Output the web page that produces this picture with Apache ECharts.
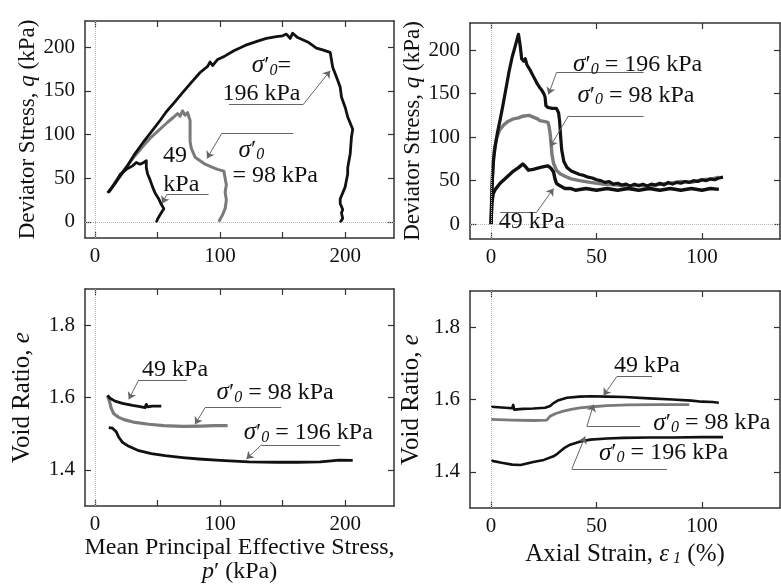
<!DOCTYPE html>
<html>
<head>
<meta charset="utf-8">
<script src="https://cdn.jsdelivr.net/npm/echarts@6/dist/echarts.min.js"></script>
<style>
  html, body { margin: 0; padding: 0; background: #fff; }
  #chart { width: 781px; height: 588px; }
</style>
</head>
<body>
<div id="chart"></div>
<script>
// ---- top-left: deviator stress q vs mean effective stress p' ----
const stressPath196 = [[10,33],[14,40],[20,52],[25,62],[31,76],[38,90],[45,103],[52,116],[57,126],[63,136],[70,148],[76,158],[84,171],[90,178],[92,183],[94,179],[98,186],[104,190],[111,196],[120,202],[130,207],[137,210],[145,212],[150,213],[153,215],[156,210],[158,216],[162,211],[170,206],[177,199],[182,197],[188,194],[190,177],[194,162],[196,154],[197,143],[200,131],[202,120],[206,106],[205,97],[204,78],[202,62],[202,55],[200,40],[196,26],[196,21],[198,14],[197,10],[198,4],[196,-1]];
const stressPath98 = [[11,34],[16,45],[22,57],[30,72],[38,86],[45,97],[52,106],[58,114],[63,120],[66,124],[68,121],[70,127],[72,122],[74,125],[76,116],[76,105],[76,92],[77,84],[80,74],[84,70],[88,66],[93,63],[98,60],[103,58],[104,50],[105,42],[104,34],[105,25],[104,15],[102,8],[100,3],[99,0]];
const stressPath49 = [[11,34],[16,44],[20,54],[25,60],[30,64],[33,68],[36,66],[39,68],[41,70],[41,62],[42,55],[44,48],[46,40],[48,33],[51,26],[53,20],[55,15],[52,8],[50,3],[49,-1]];

// ---- top-right: deviator stress q vs axial strain ----
const strainQ196 = [[0,0],[0.3,30],[0.7,55],[1.2,75],[2,90],[3,105],[4.3,120],[5.5,135],[7,155],[8.5,175],[10,192],[11.5,205],[12.5,214],[13,218],[13.8,205],[14.5,190],[15.5,187],[16.2,190],[17,183],[18.5,177],[20,170],[21.7,162],[23,157],[24,154],[25,150],[25.6,146],[26,136],[27,134],[29,133],[31,133],[32,128],[32.5,118],[33,100],[33.5,85],[34.5,72],[36,65],[38,61],[40,59],[42,57],[44,56],[46,54],[48,53],[50,51],[52,50],[54,48],[56,49],[58,46],[60,47],[62,45],[64,46],[66,44],[68,46],[70,44],[72,46],[74,44],[76,46],[78,45],[80,47],[82,45],[84,48],[86,46],[88,48],[90,47],[92,49],[94,48],[96,50],[98,49],[100,51],[102,50],[104,52],[106,51],[108,53],[110,54]];
const strainQ98 = [[0,0],[0.3,40],[0.8,65],[1.5,85],[2.5,98],[4,108],[6,114],[8,118],[10.6,121],[13,122],[15,124],[18,125],[20,123],[22,121],[23,119],[25,118],[27,117],[27.5,112],[28,104],[28.5,92],[28.8,81],[29.6,70],[31,62],[32.7,58],[35,55],[38,52],[42,50],[47,48],[53,46],[60,45],[65,43],[70,45],[75,43],[80,46],[85,47],[90,49],[95,48],[100,51],[105,52],[108,54]];
const strainQ49 = [[0,0],[0.4,25],[1,35],[2,40],[4.3,47],[7,53],[10.6,61],[13,65],[15,69],[16,67],[17.7,62],[20,63],[23,65],[25,66],[27,67],[28.5,64],[29.6,60],[30.3,52],[31,47],[32.7,44],[35,41],[37.5,41],[40,39],[45,41],[50,39],[55,41],[60,39],[65,41],[70,39],[75,41],[80,39],[85,41],[90,39],[95,41],[100,39],[104,41],[108,40]];

// ---- bottom-left: void ratio e vs p' ----
const voidP49 = [[10,1.606],[12,1.598],[16,1.590],[22,1.584],[30,1.578],[36,1.575],[40,1.572],[41,1.581],[42,1.574],[46,1.576],[53,1.576]];
const voidP98 = [[10,1.605],[11.5,1.590],[13,1.570],[15,1.555],[19,1.545],[24,1.538],[32,1.531],[43,1.526],[55,1.522],[70,1.520],[85,1.521],[95,1.522],[106,1.522]];
const voidP196 = [[11,1.517],[14,1.515],[17,1.505],[19,1.490],[22,1.476],[27,1.465],[35,1.453],[45,1.445],[56,1.439],[70,1.434],[83,1.430],[100,1.426],[123,1.422],[145,1.421],[162,1.421],[180,1.422],[189,1.425],[195,1.427],[206,1.426]];

// ---- bottom-right: void ratio e vs axial strain ----
const voidS49 = [[0,1.580],[5,1.578],[10,1.576],[10.5,1.585],[11,1.572],[15,1.574],[20,1.575],[25.6,1.577],[28,1.582],[29.6,1.590],[32,1.598],[36,1.605],[42,1.608],[47,1.609],[55,1.608],[63,1.607],[75,1.603],[86,1.600],[95,1.597],[100,1.594],[105,1.593],[108,1.591]];
const voidS98 = [[0,1.545],[10,1.543],[20,1.542],[26.4,1.543],[28,1.554],[31,1.562],[34.3,1.568],[38,1.573],[42,1.577],[48,1.580],[55,1.583],[65,1.585],[78.6,1.586],[94,1.586]];
const voidS196 = [[0,1.431],[5,1.425],[10,1.420],[14,1.419],[20,1.427],[25,1.433],[29.6,1.443],[31,1.448],[32.7,1.456],[35,1.467],[37.5,1.475],[42,1.483],[47,1.489],[55,1.492],[62.8,1.494],[75,1.495],[86.5,1.495],[100,1.496],[110,1.496]];

// tick values
const stressTicks = [0, 50, 100, 150, 200];
const stressLabels = [0, 100, 200];
const qTicks = [0, 50, 100, 150, 200];
const strainTicks = [0, 50, 100];
const voidTicks = [1.4, 1.6, 1.8];

// annotation texts and leader lines (data coordinates)
const notesTL = [
  ['{s|σ}{n|′}{z|0}{n|=}', 141, 179], ['{n|196 kPa}', 133, 147],
  ['{s|σ}{n|′}{z|0}', 125, 82], ['{n|= 98 kPa}', 144, 53],
  ['{n|49}', 64, 76], ['{n|kPa}', 69, 42]
];
const leadersTL = [
  [[107,134.5],[166.5,134.5],[188,173]],
  [[158.6,101.7],[101.5,101.7],[89.5,72.5]],
  [[90.8,31.7],[57.6,31.7],[53.6,21]]
];
const notesTR = [
  ['{s|σ}{n|′}{z|0}{n| = 196 kPa}', 69.5, 183],
  ['{s|σ}{n|′}{z|0}{n| = 98 kPa}', 68.7, 148],
  ['{n|49 kPa}', 19.3, 2.6]
];
const leadersTR = [
  [[72.3,174],[31,174],[27.2,149]],
  [[72.3,124.5],[36.7,124.5],[28,89]],
  [[4.3,14],[21.7,14],[29.6,41]]
];
const notesBL = [
  ['{n|49 kPa}', 64, 1.678],
  ['{s|σ}{n|′}{z|0}{n| = 98 kPa}', 144, 1.614],
  ['{s|σ}{n|′}{z|0}{n| = 196 kPa}', 170.5, 1.503]
];
const leadersBL = [
  [[73.5,1.649],[35,1.649],[27,1.595]],
  [[149,1.572],[88,1.572],[80,1.526]],
  [[196,1.469],[133,1.469],[121,1.43]]
];
const notesBR = [
  ['{n|49 kPa}', 73.9, 1.6925],
  ['{s|σ}{n|′}{z|0}{n| = 98 kPa}', 104.7, 1.535],
  ['{s|σ}{n|′}{z|0}{n| = 196 kPa}', 81.8, 1.452]
];
const leadersBR = [
  [[76.3,1.663],[59.6,1.663],[53.3,1.611]],
  [[70.7,1.526],[45.4,1.526],[48.6,1.586]],
  [[83.4,1.408],[38.3,1.408],[44.6,1.498]]
];

const FONT = 'Liberation Serif';
const INK = '#111';
const GRAY = '#7a7a7a';
const FRAME = '#333';

const richText = {
  n: { fontFamily: FONT, fontSize: 24, color: INK, lineHeight: 26 },
  s: { fontFamily: FONT, fontSize: 25, color: INK, fontStyle: 'italic', lineHeight: 26 },
  z: { fontFamily: FONT, fontSize: 16, color: INK, fontStyle: 'italic', lineHeight: 16, verticalAlign: 'bottom' }
};
function nameRich(size) {
  return {
    n: { fontFamily: FONT, fontSize: size, color: INK, lineHeight: size },
    i: { fontFamily: FONT, fontSize: size, color: INK, fontStyle: 'italic', lineHeight: size },
    z: { fontFamily: FONT, fontSize: 16, color: INK, fontStyle: 'italic', lineHeight: 16, verticalAlign: 'bottom' }
  };
}

const chart = echarts.init(document.getElementById('chart'));

const grids = [
  { left: 85, top: 21, width: 309, height: 217 },
  { left: 470, top: 23, width: 310, height: 216 },
  { left: 85, top: 289, width: 309, height: 217 },
  { left: 470, top: 291, width: 310, height: 217 }
];

function axisBase(grid, min, max, ticks) {
  return {
    type: 'value', gridIndex: grid, min: min, max: max,
    axisLine: { show: true, onZero: false, lineStyle: { color: FRAME, width: 1.5 } },
    axisTick: { show: true, inside: true, length: 6, customValues: ticks, lineStyle: { color: FRAME, width: 1.2 } },
    splitLine: { show: false }
  };
}
function mainAxis(grid, min, max, ticks, labels, pos, name, gap, size) {
  return Object.assign(axisBase(grid, min, max, ticks), {
    position: pos,
    axisLabel: { customValues: labels, fontFamily: FONT, fontSize: 21, color: INK, margin: pos === 'left' ? 10 : 8 },
    name: name, nameLocation: 'middle', nameGap: gap,
    nameTextStyle: { fontFamily: FONT, rich: nameRich(size || 23) }
  });
}
function mirrorAxis(grid, min, max, ticks, pos) {
  return Object.assign(axisBase(grid, min, max, ticks), {
    position: pos, axisLabel: { show: false }
  });
}

const xAxes = [
  mainAxis(0, -8, 239, stressTicks, stressLabels, 'bottom', '', 0),
  mainAxis(1, -10, 137, strainTicks, strainTicks, 'bottom', '', 0),
  mainAxis(2, -8, 239, stressTicks, stressLabels, 'bottom', '{n|Mean Principal Effective Stress,}\n{i|p}{n|′ (kPa)}', 29, 24),
  mainAxis(3, -10, 137, strainTicks, strainTicks, 'bottom', '{n|Axial Strain, }{i|ε}{z| 1}{n| (%)}', 34, 25),
  mirrorAxis(0, -8, 239, stressTicks, 'top'),
  mirrorAxis(1, -10, 137, strainTicks, 'top'),
  mirrorAxis(2, -8, 239, stressTicks, 'top'),
  mirrorAxis(3, -10, 137, strainTicks, 'top')
];
const yAxes = [
  mainAxis(0, -18.6, 230, qTicks, qTicks, 'left', '{n|Deviator Stress, }{i|q}{n| (kPa)}', 45, 23),
  mainAxis(1, -17, 231, qTicks, qTicks, 'left', '{n|Deviator Stress, }{i|q}{n| (kPa)}', 38, 23),
  mainAxis(2, 1.3, 1.9, voidTicks, voidTicks, 'left', '{n|Void Ratio, }{i|e}', 50, 25),
  mainAxis(3, 1.3, 1.9, voidTicks, voidTicks, 'left', '{n|Void Ratio, }{i|e}', 46, 25),
  mirrorAxis(0, -18.6, 230, qTicks, 'right'),
  mirrorAxis(1, -17, 231, qTicks, 'right'),
  mirrorAxis(2, 1.3, 1.9, voidTicks, 'right'),
  mirrorAxis(3, 1.3, 1.9, voidTicks, 'right')
];
yAxes[2].axisLabel.formatter = v => v.toFixed(1);
yAxes[3].axisLabel.formatter = v => v.toFixed(1);

function curve(panel, data, color, width) {
  return {
    type: 'line', xAxisIndex: panel, yAxisIndex: panel, data: data,
    showSymbol: false, symbol: 'none', silent: true,
    lineStyle: { color: color, width: width, join: 'round' }
  };
}

// dotted zero lines + annotations for one panel
function notesSeries(panel, notes, leaders, zeroY) {
  const lines = [{ xAxis: 0 }];
  if (zeroY) lines.push({ yAxis: 0 });
  const zeroSeries = {
    type: 'line', xAxisIndex: panel, yAxisIndex: panel, data: [], silent: true,
    markLine: {
      silent: true, symbol: 'none', label: { show: false },
      lineStyle: { color: '#b5b5b5', type: 'dotted', width: 1 },
      data: lines
    }
  };
  const segs = [];
  leaders.forEach(l => {
    segs.push([{ coord: l[0], symbol: 'none' }, { coord: l[1], symbol: 'none' }]);
    segs.push([{ coord: l[1], symbol: 'none' }, { coord: l[2], symbol: 'arrow', symbolSize: 7 }]);
  });
  const noteSeries = {
    type: 'line', xAxisIndex: panel, yAxisIndex: panel, data: [], silent: true, z: 5,
    markLine: {
      silent: true, label: { show: false },
      lineStyle: { color: '#666', type: 'solid', width: 1 },
      data: segs
    },
    markPoint: {
      silent: true,
      data: notes.map(t => ({
        coord: [t[1], t[2]], symbol: 'circle', symbolSize: 0,
        itemStyle: { color: 'rgba(0,0,0,0)' },
        label: { show: true, position: 'inside', fontFamily: FONT, formatter: t[0], rich: richText }
      }))
    }
  };
  return [zeroSeries, noteSeries];
}

const series = [
  ...notesSeries(0, notesTL, leadersTL, true),
  ...notesSeries(1, notesTR, leadersTR, true),
  ...notesSeries(2, notesBL, leadersBL, false),
  ...notesSeries(3, notesBR, leadersBR, false),
  curve(0, stressPath98, GRAY, 3),
  curve(0, stressPath196, INK, 2.8),
  curve(0, stressPath49, INK, 2.8),
  curve(1, strainQ98, GRAY, 3.4),
  curve(1, strainQ49, INK, 3.4),
  curve(1, strainQ196, INK, 3.2),
  curve(2, voidP98, GRAY, 3.2),
  curve(2, voidP49, INK, 2.8),
  curve(2, voidP196, INK, 2.8),
  curve(3, voidS98, GRAY, 2.8),
  curve(3, voidS49, INK, 2.6),
  curve(3, voidS196, INK, 2.6)
];

chart.setOption({
  backgroundColor: '#fff',
  animation: false,
  textStyle: { fontFamily: FONT },
  grid: grids,
  xAxis: xAxes,
  yAxis: yAxes,
  series: series
});
</script>
</body>
</html>
